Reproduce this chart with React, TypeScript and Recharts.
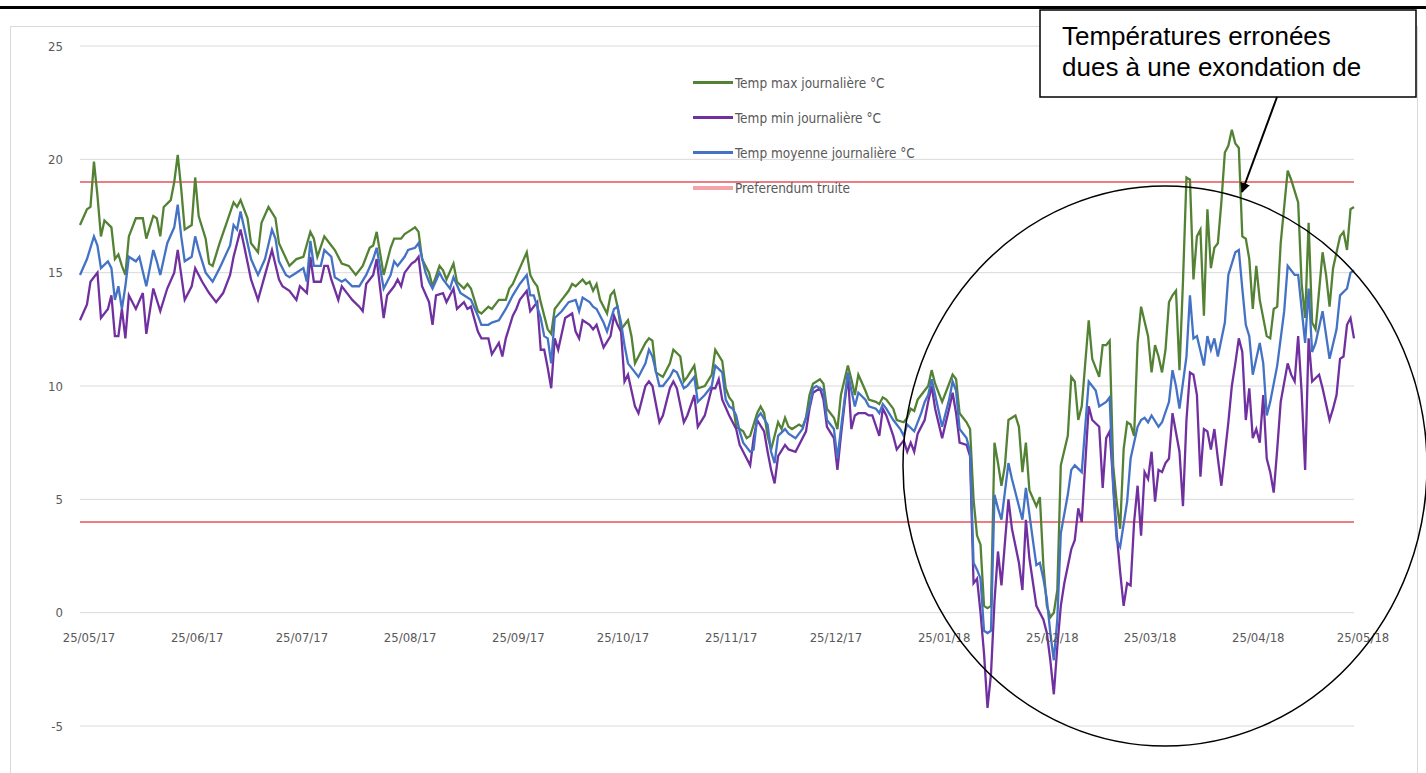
import React from 'react';
import { LineChart, Line, XAxis, YAxis, CartesianGrid, ReferenceLine, Legend } from 'recharts';

// [jour depuis le 25/05/17, °C]
type Pt = [number, number];

const monthTicks = [0, 31, 61, 92, 123, 153, 184, 214, 245, 276, 304, 335, 365];
const monthLabels = [
  '25/05/17', '25/06/17', '25/07/17', '25/08/17', '25/09/17', '25/10/17', '25/11/17',
  '25/12/17', '25/01/18', '25/02/18', '25/03/18', '25/04/18', '25/05/18',
];
const yTicks = [-5, 0, 5, 10, 15, 20, 25];
const preferendum = [19, 4];

const tempMax: Pt[] = [
  [0, 17.1], [2, 17.8], [3, 17.9], [4, 19.9], [5, 18.4], [6, 16.6], [7, 17.3], [9, 17.0], [10, 15.6], [11, 15.8],
  [12, 15.3], [13, 14.9], [14, 16.6], [16, 17.4], [18, 17.4], [19, 16.5], [21, 17.5], [22, 17.4], [23, 16.6], [24, 17.9],
  [26, 18.2], [27, 19.0], [28, 20.2], [29, 18.7], [30, 16.9], [32, 17.1], [33, 19.2], [34, 17.5], [36, 16.5], [37, 15.4],
  [38, 15.3], [40, 16.3], [42, 17.2], [44, 18.1], [45, 17.9], [46, 18.2], [48, 17.4], [49, 16.3], [51, 15.9], [52, 17.2],
  [54, 17.9], [56, 17.4], [57, 16.3], [60, 15.3], [62, 15.6], [64, 15.7], [66, 16.8], [67, 16.5], [68, 15.7], [70, 16.6],
  [71, 16.4], [73, 16.0], [75, 15.4], [77, 15.3], [79, 14.9], [81, 15.3], [83, 16.1], [84, 16.2], [85, 16.8], [87, 14.9],
  [89, 16.1], [90, 16.5], [92, 16.5], [93, 16.7], [94, 16.8], [95, 16.9], [96, 17.0], [97, 16.8], [98, 15.6], [100, 15.0],
  [101, 14.4], [103, 15.3], [104, 15.1], [105, 14.7], [107, 15.4], [108, 14.6], [110, 14.3], [111, 14.5], [112, 14.3], [114, 13.3],
  [115, 13.2], [117, 13.5], [118, 13.4], [120, 13.8], [122, 13.8], [123, 14.3], [124, 14.5], [126, 15.2], [128, 15.9], [129, 14.9],
  [130, 14.6], [131, 14.4], [132, 13.7], [134, 12.5], [135, 12.3], [136, 13.4], [138, 13.8], [140, 14.2], [141, 14.5], [142, 14.4],
  [144, 14.7], [145, 14.5], [146, 14.6], [147, 14.2], [148, 14.5], [149, 13.8], [151, 13.2], [152, 14.0], [153, 14.2], [154, 13.5],
  [155, 12.5], [157, 12.9], [158, 12.2], [159, 11.0], [160, 11.3], [162, 11.9], [163, 12.1], [164, 12.0], [165, 10.6], [167, 10.4],
  [169, 11.0], [170, 11.6], [172, 11.3], [173, 10.2], [174, 10.4], [176, 10.9], [177, 9.9], [179, 10.0], [181, 10.5], [182, 11.6],
  [184, 11.1], [185, 9.9], [186, 9.5], [187, 9.3], [188, 8.2], [190, 8.0], [191, 7.7], [192, 7.8], [194, 8.8], [195, 9.1],
  [196, 8.8], [197, 7.8], [198, 7.2], [200, 8.4], [201, 8.1], [202, 8.6], [203, 8.2], [204, 8.1], [206, 8.3], [207, 8.2],
  [208, 8.6], [209, 9.6], [210, 10.1], [212, 10.3], [213, 10.1], [214, 9.0], [216, 8.6], [217, 8.1], [218, 9.6], [220, 10.9],
  [221, 10.3], [222, 9.6], [223, 10.5], [225, 9.8], [226, 9.4], [228, 9.3], [229, 9.2], [230, 9.5], [231, 9.4], [233, 9.0],
  [234, 8.5], [236, 8.4], [237, 8.6], [238, 9.0], [239, 8.9], [240, 9.4], [241, 9.6], [243, 10.0], [244, 10.7], [245, 10.1],
  [247, 9.3], [249, 10.1], [250, 10.5], [251, 10.3], [252, 8.8], [254, 8.4], [255, 8.1], [256, 5.0], [257, 3.4], [258, 3.0],
  [259, 0.3], [260, 0.2], [261, 0.3], [262, 7.5], [263, 6.6], [264, 5.6], [265, 6.5], [266, 8.5], [268, 8.7], [269, 8.2],
  [270, 6.2], [271, 7.5], [272, 5.4], [274, 4.7], [275, 5.1], [276, 2.1], [277, 0.3], [278, -0.2], [279, 0.0], [280, 1.0],
  [281, 6.5], [283, 7.8], [284, 10.4], [285, 10.2], [286, 8.5], [287, 9.1], [289, 12.9], [290, 11.2], [292, 10.4], [293, 11.8],
  [294, 11.8], [295, 12.0], [296, 6.5], [297, 4.9], [298, 3.7], [299, 7.2], [300, 8.4], [301, 8.3], [302, 7.8], [303, 11.9],
  [304, 13.5], [306, 12.2], [307, 10.6], [308, 11.8], [309, 11.3], [310, 10.6], [311, 11.6], [312, 13.7], [313, 14.0], [314, 14.2],
  [315, 10.7], [316, 14.6], [317, 19.2], [318, 19.1], [319, 14.7], [320, 16.6], [321, 16.9], [322, 13.1], [323, 17.8], [324, 15.2],
  [325, 16.1], [326, 16.3], [327, 18.1], [328, 20.3], [329, 20.6], [330, 21.3], [331, 20.7], [332, 20.5], [333, 16.6], [334, 16.5],
  [335, 15.6], [336, 13.4], [337, 15.3], [338, 13.8], [340, 12.2], [341, 12.1], [342, 13.4], [343, 13.5], [344, 16.3], [346, 19.5],
  [347, 19.1], [349, 18.1], [350, 14.5], [351, 13.0], [352, 17.2], [353, 12.8], [354, 12.5], [356, 15.9], [357, 14.9], [358, 13.5],
  [359, 15.2], [361, 16.6], [362, 16.8], [363, 16.0], [364, 17.8], [365, 17.9],
];

const tempMin: Pt[] = [
  [0, 12.9], [2, 13.6], [3, 14.6], [5, 15.0], [6, 13.0], [8, 13.4], [9, 14.0], [10, 12.2], [11, 12.2], [12, 13.4],
  [13, 12.1], [14, 14.0], [16, 13.4], [18, 14.1], [19, 12.3], [21, 14.3], [23, 13.3], [25, 14.3], [27, 15.0], [28, 16.0],
  [29, 14.9], [30, 13.8], [32, 14.4], [33, 15.2], [35, 14.6], [37, 14.1], [39, 13.7], [41, 14.1], [43, 14.9], [44, 15.7],
  [45, 16.3], [46, 16.9], [47, 16.2], [49, 14.7], [51, 13.8], [53, 14.9], [55, 16.0], [57, 14.7], [58, 14.4], [60, 14.2],
  [62, 13.8], [63, 14.4], [65, 14.1], [66, 15.7], [67, 14.6], [69, 14.6], [70, 15.3], [71, 15.3], [72, 14.7], [74, 13.8],
  [75, 14.4], [77, 14.0], [78, 13.8], [80, 13.5], [81, 13.3], [82, 14.5], [84, 14.9], [85, 15.6], [87, 13.0], [88, 14.0],
  [90, 14.4], [91, 14.7], [92, 14.4], [93, 15.0], [95, 15.4], [96, 15.5], [97, 15.7], [98, 14.4], [100, 13.7], [101, 12.7],
  [102, 14.0], [104, 14.1], [105, 13.7], [107, 14.3], [108, 13.4], [110, 13.7], [111, 13.4], [112, 13.5], [114, 12.4], [115, 12.1],
  [117, 12.1], [118, 11.4], [120, 11.9], [121, 11.3], [122, 12.1], [124, 13.1], [125, 13.4], [126, 13.8], [128, 14.2], [129, 13.3],
  [131, 13.7], [132, 11.6], [133, 11.6], [134, 10.8], [135, 9.9], [136, 12.1], [137, 11.6], [139, 13.0], [141, 13.2], [142, 12.4],
  [143, 12.1], [144, 12.9], [146, 12.7], [147, 12.5], [148, 12.7], [150, 11.7], [152, 12.2], [153, 13.1], [154, 12.7], [155, 12.4],
  [156, 10.2], [157, 10.5], [159, 9.1], [160, 8.8], [162, 10.0], [163, 10.2], [164, 10.0], [166, 8.4], [167, 8.7], [169, 9.9],
  [170, 10.2], [171, 9.9], [173, 8.4], [174, 8.7], [176, 9.6], [177, 8.2], [179, 8.7], [181, 9.9], [182, 9.9], [183, 10.3],
  [184, 9.4], [186, 8.7], [187, 8.4], [188, 8.1], [189, 7.4], [191, 6.8], [192, 6.5], [193, 7.7], [194, 8.5], [196, 8.0],
  [197, 7.1], [198, 6.3], [199, 5.7], [200, 6.9], [202, 7.4], [203, 7.2], [205, 7.1], [206, 7.4], [208, 8.0], [209, 9.0],
  [210, 9.7], [212, 9.9], [213, 9.4], [214, 8.2], [216, 7.7], [217, 6.3], [218, 7.8], [220, 10.5], [221, 8.1], [222, 8.7],
  [223, 8.8], [225, 8.8], [226, 8.7], [227, 8.7], [229, 7.8], [230, 9.0], [231, 8.7], [233, 7.8], [234, 7.2], [236, 7.6],
  [237, 7.1], [238, 7.5], [239, 7.1], [240, 7.9], [242, 8.5], [243, 9.3], [244, 10.0], [245, 9.0], [247, 7.7], [249, 9.0],
  [250, 9.7], [251, 8.8], [252, 7.5], [254, 7.4], [255, 6.9], [256, 1.3], [257, 1.5], [258, 0.0], [259, -1.8], [260, -4.2],
  [261, -2.7], [262, 0.5], [263, 2.7], [264, 1.2], [266, 5.0], [267, 3.7], [269, 2.2], [270, 1.0], [271, 4.1], [272, 2.4],
  [274, 0.3], [275, 0.0], [276, -0.3], [277, -0.9], [278, -2.1], [279, -3.6], [280, -1.5], [281, 0.3], [282, 1.3], [284, 2.8],
  [285, 3.2], [286, 4.6], [287, 4.0], [289, 9.1], [290, 8.5], [292, 8.2], [293, 5.5], [294, 7.7], [295, 8.0], [297, 3.5],
  [298, 1.8], [299, 0.3], [300, 1.3], [301, 1.2], [302, 4.0], [303, 5.6], [304, 3.4], [305, 6.2], [306, 5.9], [307, 7.1],
  [308, 4.9], [309, 6.3], [310, 6.2], [311, 6.6], [312, 6.8], [313, 8.8], [315, 7.1], [316, 4.7], [317, 8.5], [318, 10.6],
  [319, 10.5], [320, 9.6], [321, 6.0], [322, 8.1], [323, 8.0], [324, 7.2], [325, 8.1], [326, 6.8], [327, 5.6], [329, 8.4],
  [330, 10.0], [331, 11.0], [332, 12.1], [333, 11.5], [334, 8.5], [335, 9.9], [336, 7.7], [337, 8.1], [338, 7.5], [339, 9.6],
  [340, 6.8], [341, 6.2], [342, 5.3], [343, 7.2], [344, 9.3], [346, 11.0], [347, 10.5], [348, 10.2], [349, 12.2], [350, 9.7],
  [351, 6.3], [352, 12.1], [353, 10.2], [355, 10.5], [356, 9.9], [358, 8.5], [359, 9.0], [360, 9.6], [361, 11.2], [362, 11.3],
  [363, 12.7], [364, 13.0], [365, 12.1],
];

const tempMean: Pt[] = [
  [0, 14.9], [2, 15.6], [4, 16.6], [5, 16.2], [6, 15.2], [8, 15.5], [9, 15.2], [10, 13.8], [11, 14.4], [12, 13.4],
  [13, 14.4], [14, 15.7], [16, 15.5], [17, 15.7], [19, 14.4], [21, 16.0], [22, 15.5], [23, 14.9], [25, 16.3], [27, 17.0],
  [28, 18.0], [29, 16.6], [30, 15.5], [32, 15.7], [33, 16.6], [34, 16.0], [36, 15.0], [38, 14.6], [40, 15.2], [43, 16.2],
  [44, 17.1], [45, 16.9], [46, 17.7], [48, 16.3], [49, 15.6], [51, 14.9], [53, 15.6], [55, 16.9], [56, 16.5], [57, 15.5],
  [59, 14.9], [60, 14.8], [62, 15.0], [64, 15.2], [65, 14.6], [66, 16.4], [67, 15.3], [69, 15.3], [70, 16.0], [72, 15.7],
  [73, 14.8], [75, 14.6], [76, 14.7], [78, 14.4], [80, 14.4], [82, 14.9], [84, 15.6], [85, 16.1], [87, 14.3], [89, 14.9],
  [90, 15.5], [91, 15.3], [93, 15.7], [94, 16.0], [96, 16.1], [97, 16.3], [99, 15.0], [100, 14.6], [101, 14.3], [103, 15.0],
  [104, 14.7], [106, 14.3], [107, 14.8], [109, 14.1], [110, 14.0], [112, 13.8], [114, 13.1], [115, 12.7], [117, 12.7], [118, 12.8],
  [120, 12.9], [122, 13.4], [123, 13.7], [124, 14.0], [126, 14.5], [128, 14.9], [129, 14.0], [130, 14.0], [132, 13.0], [133, 12.2],
  [134, 12.1], [135, 11.0], [136, 13.0], [138, 13.3], [140, 13.7], [142, 13.8], [143, 13.3], [144, 13.9], [146, 13.7], [147, 13.5],
  [148, 13.4], [150, 12.8], [151, 12.4], [153, 13.4], [154, 13.5], [155, 12.8], [156, 11.8], [157, 11.0], [159, 10.6], [160, 10.4],
  [162, 11.0], [163, 11.6], [164, 11.3], [166, 10.0], [167, 10.0], [169, 10.4], [170, 10.7], [171, 10.6], [173, 9.9], [174, 10.0],
  [176, 10.4], [177, 9.3], [179, 9.6], [181, 10.0], [182, 10.9], [184, 10.6], [185, 9.4], [186, 9.1], [187, 9.0], [188, 8.7],
  [189, 8.0], [190, 7.5], [192, 7.1], [193, 7.2], [194, 8.6], [195, 8.8], [197, 8.3], [198, 7.1], [199, 6.6], [200, 7.8],
  [202, 8.1], [203, 7.9], [205, 7.7], [206, 7.9], [207, 8.1], [209, 9.1], [210, 9.9], [211, 10.0], [213, 9.8], [214, 8.5],
  [216, 8.1], [217, 6.8], [218, 8.1], [220, 10.6], [221, 9.8], [222, 9.1], [223, 9.7], [225, 9.4], [226, 9.1], [228, 9.0],
  [229, 8.8], [230, 9.2], [231, 9.0], [233, 8.5], [235, 8.1], [236, 7.8], [237, 8.3], [239, 8.0], [241, 8.8], [242, 9.3],
  [243, 9.6], [244, 10.3], [245, 9.6], [247, 8.2], [249, 9.4], [250, 10.2], [251, 9.8], [252, 8.1], [254, 7.7], [255, 7.1],
  [256, 2.2], [257, 1.9], [258, 1.5], [259, -0.8], [260, -0.9], [261, -0.8], [262, 5.2], [263, 4.6], [264, 4.1], [266, 6.6],
  [267, 5.9], [268, 5.3], [270, 4.1], [271, 5.5], [273, 3.2], [274, 2.1], [275, 2.2], [276, 1.5], [277, 0.6], [278, -0.9],
  [279, -2.1], [280, -0.3], [281, 3.5], [283, 5.2], [284, 6.3], [285, 6.5], [287, 6.2], [288, 8.2], [289, 10.2], [291, 9.8],
  [292, 9.1], [294, 9.3], [295, 9.5], [296, 5.5], [297, 3.2], [298, 2.9], [300, 4.9], [301, 6.8], [303, 8.2], [304, 8.5],
  [305, 8.6], [306, 8.4], [307, 8.7], [309, 8.2], [310, 8.4], [312, 9.3], [313, 10.7], [314, 10.0], [315, 9.0], [317, 11.3],
  [318, 14.0], [319, 12.1], [320, 12.2], [322, 10.9], [323, 12.2], [324, 11.6], [325, 12.1], [326, 11.3], [328, 12.8], [329, 14.9],
  [331, 15.9], [332, 16.0], [333, 14.3], [334, 12.7], [335, 12.2], [336, 10.5], [338, 11.9], [339, 11.0], [340, 8.7], [341, 9.3],
  [343, 10.9], [345, 13.3], [346, 15.3], [348, 14.9], [349, 14.9], [351, 11.9], [352, 14.3], [353, 11.5], [354, 11.9], [356, 13.3],
  [358, 11.2], [360, 12.5], [361, 14.0], [363, 14.3], [364, 15.0], [365, 15.1],
];

const FONT = "'DejaVu Sans Condensed', 'DejaVu Sans', sans-serif";
const TEXT_GREY = '#595959';

const toRows = (pts: Pt[]) => pts.map(([d, t]) => ({ d, t }));

const series = [
  { name: 'Temp max journalière °C', color: '#548235', rows: toRows(tempMax) },
  { name: 'Temp min journalière °C', color: '#7030a0', rows: toRows(tempMin) },
  { name: 'Temp moyenne journalière °C', color: '#4472c4', rows: toRows(tempMean) },
];

function DateTick({ x, y, payload }: any) {
  const i = monthTicks.indexOf(payload.value);
  // les dates sont posées sur la ligne du zéro, pas en bas du graphe
  return (
    <text x={x + 9} y={y - 84} textAnchor="middle" fill={TEXT_GREY} fontSize={13} fontFamily={FONT}>
      {monthLabels[i]}
    </text>
  );
}

function LegendRow({ color, label, thick }: { color: string; label: string; thick?: boolean }) {
  return (
    <div style={{ display: 'flex', alignItems: 'center', height: 35 }}>
      <span style={{ display: 'inline-block', width: 40, height: thick ? 4 : 2.5, background: color }} />
      <span style={{ marginLeft: 2, whiteSpace: 'nowrap' }}>{label}</span>
    </div>
  );
}

function LegendBox({ payload }: any) {
  return (
    <div style={{ fontFamily: FONT, fontSize: 13.5, color: TEXT_GREY, textAlign: 'left' }}>
      {(payload ?? []).map((p: any) => (
        <LegendRow key={p.value} color={p.color} label={p.value} />
      ))}
      <LegendRow color="#f4a3a8" label="Preferendum truite" thick />
    </div>
  );
}

export default function App() {
  return (
    <div style={{ position: 'absolute', left: 0, top: 0, width: 1426, height: 773, background: '#fff', overflow: 'hidden' }}>
      {/* cadre du graphique Excel */}
      <div
        style={{
          position: 'absolute',
          left: 10,
          top: 26,
          width: 1408,
          height: 800,
          border: '1px solid #d9d9d9',
          boxSizing: 'border-box',
        }}
      />

      <div style={{ position: 'absolute', left: 0, top: 0 }}>
        <LineChart width={1426} height={773} margin={{ top: 46, right: 72, bottom: 17, left: 20 }}>
          <CartesianGrid horizontal vertical={false} stroke="#d9d9d9" strokeWidth={1} />
          <XAxis
            dataKey="d"
            type="number"
            domain={[0, 365]}
            ticks={monthTicks}
            interval={0}
            allowDuplicatedCategory={false}
            axisLine={false}
            tickLine={false}
            tickSize={0}
            tickMargin={0}
            height={30}
            tick={<DateTick />}
          />
          <YAxis
            type="number"
            domain={[-5, 25]}
            ticks={yTicks}
            width={60}
            axisLine={false}
            tickLine={false}
            tickSize={0}
            tickMargin={17}
            tick={{ fill: TEXT_GREY, fontSize: 13, fontFamily: FONT }}
          />
          {preferendum.map((v) => (
            <ReferenceLine key={v} y={v} stroke="#e8505b" strokeWidth={1.4} ifOverflow="extendDomain" />
          ))}
          {series.map((s) => (
            <Line
              key={s.name}
              data={s.rows}
              dataKey="t"
              name={s.name}
              type="linear"
              stroke={s.color}
              strokeWidth={2.3}
              dot={false}
              activeDot={false}
              isAnimationActive={false}
            />
          ))}
          <Legend
            layout="vertical"
            align="center"
            verticalAlign="middle"
            content={<LegendBox />}
            wrapperStyle={{ left: 693, top: 65, width: 320, height: 145 }}
          />
        </LineChart>
      </div>

      {/* annotations */}
      <svg
        width={1426}
        height={773}
        style={{ position: 'absolute', left: 0, top: 0, pointerEvents: 'none' }}
      >
        <defs>
          <marker id="head" viewBox="0 0 10 10" refX="9" refY="5" markerWidth="5" markerHeight="5" orient="auto">
            <path d="M0,0 L10,5 L0,10 z" fill="#000" />
          </marker>
        </defs>
        <line x1={0} y1={7.5} x2={1426} y2={7.5} stroke="#000" strokeWidth={3} />
        <ellipse cx={1165} cy={466} rx={262} ry={280} fill="none" stroke="#000" strokeWidth={1.5} />
        <rect x={1040} y={10} width={376} height={87} fill="#fff" stroke="#000" strokeWidth={1.5} />
        <text x={1062} y={45} fontSize={26} fontFamily="'Liberation Sans', Arial, sans-serif" fill="#000">
          Températures erronées
        </text>
        <text x={1062} y={76} fontSize={26} fontFamily="'Liberation Sans', Arial, sans-serif" fill="#000">
          dues à une exondation de
        </text>
        <line x1={1277} y1={97} x2={1242} y2={192} stroke="#000" strokeWidth={2} markerEnd="url(#head)" />
      </svg>
    </div>
  );
}
